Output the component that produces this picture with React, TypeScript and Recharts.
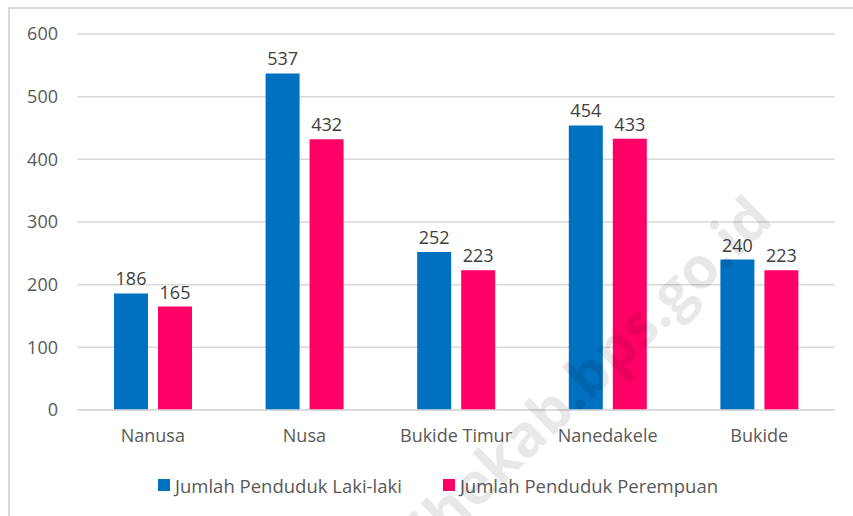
import { BarChart, Bar, XAxis, YAxis, CartesianGrid, Legend, LabelList } from "recharts";

const desa = ["Nanusa", "Nusa", "Bukide Timur", "Nanedakele", "Bukide"];
const lakiLaki = [186, 537, 252, 454, 240];
const perempuan = [165, 432, 223, 433, 223];
const yTicks = [0, 100, 200, 300, 400, 500, 600];

const seriesNames = ["Jumlah Penduduk Laki-laki", "Jumlah Penduduk Perempuan"];
const BLUE = "#0070C0";
const PINK = "#FF0066";
const FONT = "'Open Sans', sans-serif";

const data = desa.map((name, i) => ({ name, laki: lakiLaki[i], perempuan: perempuan[i] }));

function LegendBox() {
  const items = [
    { label: seriesNames[0], color: BLUE },
    { label: seriesNames[1], color: PINK },
  ];
  return (
    <div style={{ display: "flex", justifyContent: "flex-start", paddingLeft: 158, gap: 41, fontFamily: FONT, fontSize: 18.5, color: "#595959", height: 24, alignItems: "center" }}>
      {items.map((it) => (
        <div key={it.label} style={{ display: "flex", alignItems: "center" }}>
          <span style={{ width: 12, height: 12, background: it.color, display: "inline-block", marginRight: 5 }} />
          <span>{it.label}</span>
        </div>
      ))}
    </div>
  );
}

export default function App() {
  return (
    <div style={{ position: "relative", width: 853, height: 516, overflow: "hidden", background: "#fff" }}>
      <style>{`body{margin:0}`}</style>
      <div style={{ position: "absolute", left: 8, top: 7, width: 900, height: 600, border: "2px solid #d9d9d9", boxSizing: "border-box" }} />
      <div style={{ position: "absolute", left: 0, top: 0 }}>
        <BarChart width={853} height={516} data={data} margin={{ top: 34, right: 18, left: 0, bottom: 19 }} barSize={34} barGap={10}>
          <CartesianGrid vertical={false} stroke="#d9d9d9" strokeWidth={1.5} />
          <XAxis
            dataKey="name"
            axisLine={{ stroke: "#d9d9d9", strokeWidth: 1.5 }}
            tickLine={false}
            tickSize={0}
            tickMargin={19}
            height={63}
            tick={{ fontSize: 18, fill: "#595959", fontFamily: FONT }}
          />
          <YAxis
            domain={[0, 600]}
            ticks={yTicks}
            axisLine={false}
            tickLine={false}
            tickSize={0}
            tickMargin={19}
            width={77}
            tick={{ fontSize: 18, fill: "#595959", fontFamily: FONT }}
          />
          <Legend verticalAlign="bottom" content={<LegendBox />} wrapperStyle={{ height: 24 }} />
          <Bar dataKey="laki" name={seriesNames[0]} fill={BLUE} isAnimationActive={false}>
            <LabelList dataKey="laki" position="top" offset={8} style={{ fontSize: 18, fill: "#404040", fontFamily: FONT }} />
          </Bar>
          <Bar dataKey="perempuan" name={seriesNames[1]} fill={PINK} isAnimationActive={false}>
            <LabelList dataKey="perempuan" position="top" offset={8} style={{ fontSize: 18, fill: "#404040", fontFamily: FONT }} />
          </Bar>
        </BarChart>
      </div>
      <svg width={853} height={516} style={{ position: "absolute", left: 0, top: 0, pointerEvents: "none" }}>
        <text
          x={775}
          y={222}
          textAnchor="end"
          transform="rotate(-44 775 222)"
          fontFamily="'Open Sans', sans-serif"
          fontWeight="bold"
          fontSize={58}
          fill="rgba(0,0,0,0.09)"
        >
          sangihekab.bps.go.id
        </text>
      </svg>
    </div>
  );
}
